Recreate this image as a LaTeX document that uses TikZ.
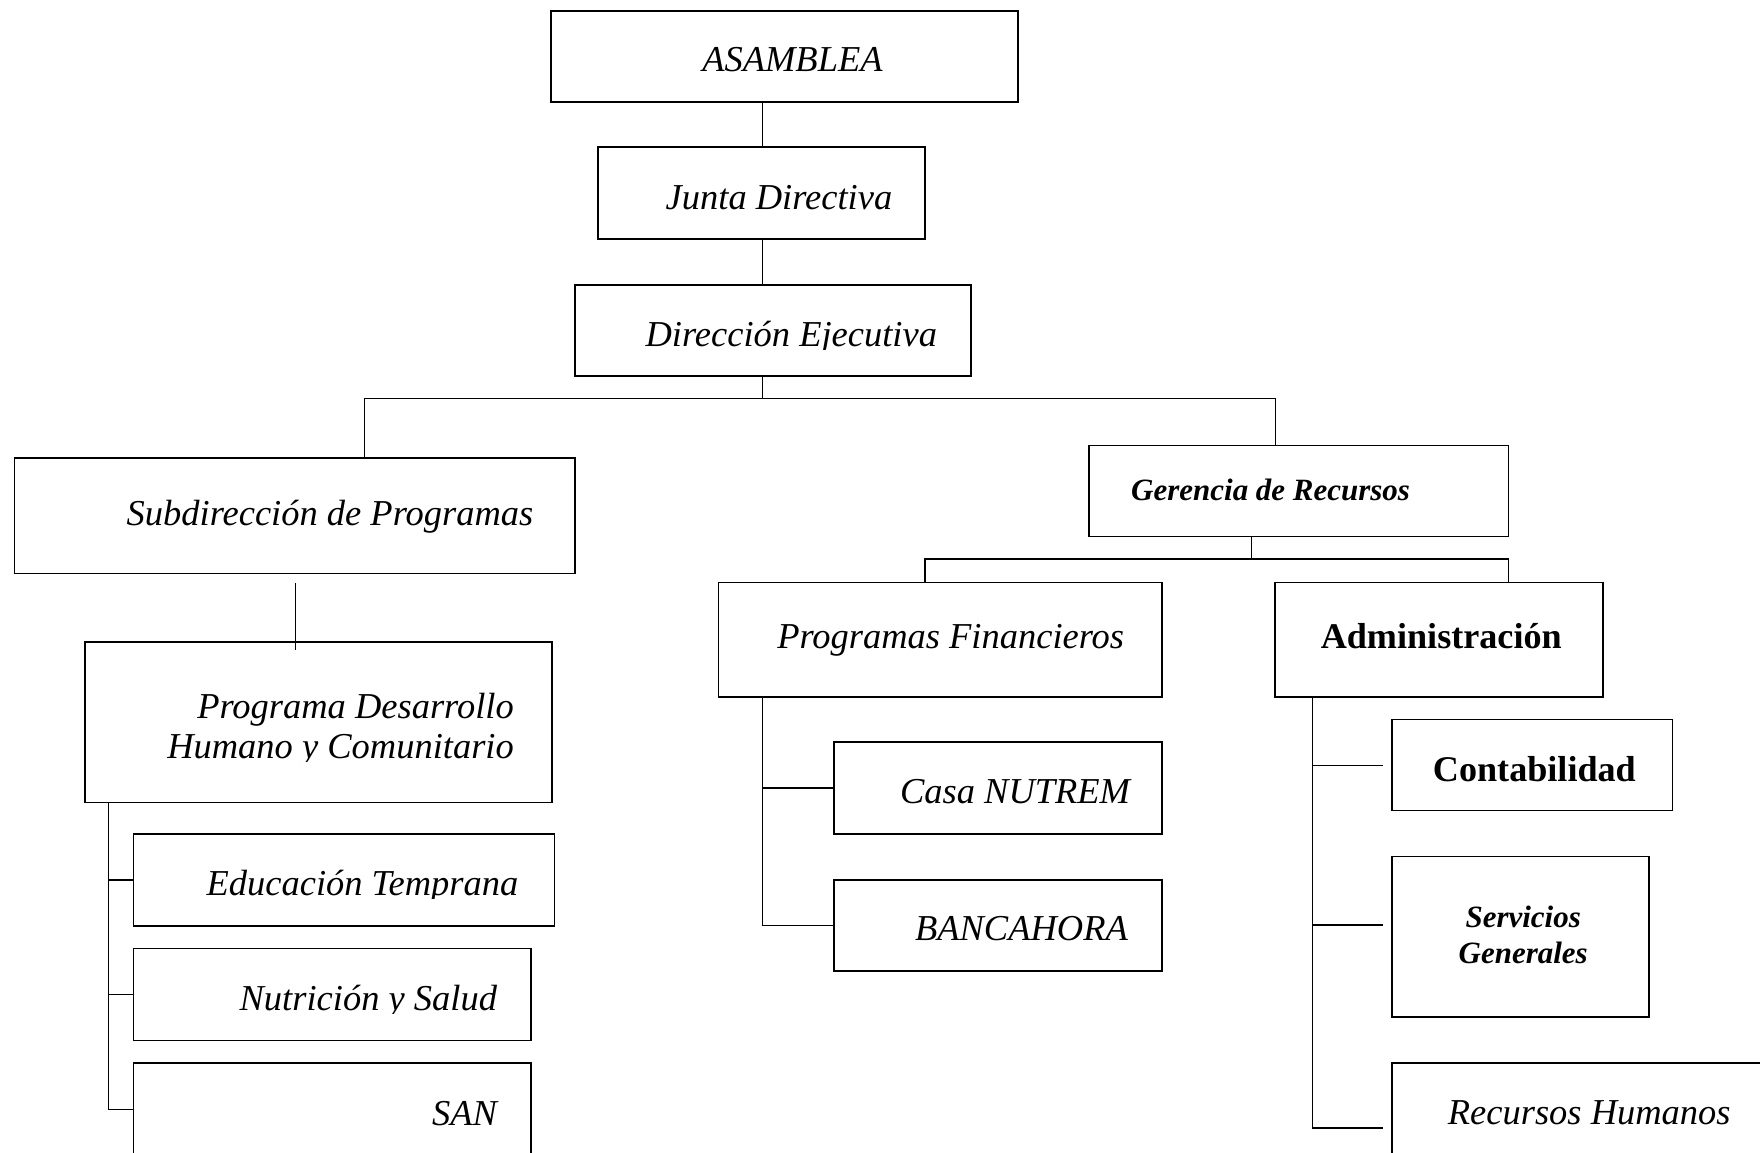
\documentclass[tikz,border=0pt]{standalone}
\usepackage{fontspec}
\setmainfont{Liberation Serif}
\usetikzlibrary{fit}
\begin{document}
\begin{tikzpicture}[x=1pt,y=-1pt,
  orgbox/.style={draw, line width=1.5pt, inner sep=0pt},
  link/.style={line width=1.1pt},
  tick/.style={line width=1.6pt},
  lbl/.style={inner sep=0pt, font=\fontsize{32.5}{37}\selectfont\itshape},
  lblbf/.style={inner sep=0pt, font=\fontsize{32.2}{37}\selectfont\bfseries},
  lblsm/.style={inner sep=0pt, align=center, font=\fontsize{27.6}{32}\selectfont\bfseries\itshape}]
\useasboundingbox (0,0) rectangle (1568,1027);

% ---- boxes ----
\node[orgbox, fit={(491,10) (907,91)}] (asam) {};
\node[orgbox, fit={(533,131) (824,213)}] (junta) {};
\node[orgbox, fit={(512,254) (865,335)}] (dir) {};
\node[orgbox, fit={(13,408) (512,511)}] (sub) {};
\node[orgbox, fit={(970,397) (1344,478)}] (ger) {};
\node[orgbox, fit={(76,572) (492,715)}] (pdhc) {};
\node[orgbox, fit={(119,743) (494,825)}] (edu) {};
\node[orgbox, fit={(119,845) (473,927)}] (nut) {};
\node[orgbox, fit={(119,947) (473,1030)}] (san) {};
\node[orgbox, fit={(640,519) (1035,621)}] (pf) {};
\node[orgbox, fit={(743,661) (1035,743)}] (casa) {};
\node[orgbox, fit={(743,784) (1035,865)}] (banc) {};
\node[orgbox, fit={(1136,519) (1428,621)}] (adm) {};
\node[orgbox, fit={(1240,641) (1490,722)}] (cont) {};
\node[orgbox, fit={(1240,763) (1469,906)}] (serv) {};
\node[orgbox, fit={(1240,947) (1575,1035)}] (rrhh) {};

% ---- labels ----
\node[lbl, anchor=base] (tasam) at (706,64) {ASAMBLEA};
\node[lbl, anchor=base] (tjunta) at (694,187) {Junta Directiva};
\begin{scope}
  \clip (512,254) rectangle (865,311.5);
  \node[lbl, anchor=base] (tdir) at (705,309) {Dirección Ejecutiva};
\end{scope}
\node[lbl, anchor=base] (tsub) at (294,468) {Subdirección de Programas};
\node[lblsm, anchor=base] (tger) at (1132,446) {Gerencia de Recursos};
\node[lbl, anchor=base east] (tpdhc1) at (458,640) {Programa Desarrollo};
\begin{scope}
  \clip (76,645) rectangle (492,678.5);
  \node[lbl, anchor=base east] (tpdhc2) at (458,676) {Humano y Comunitario};
\end{scope}
\begin{scope}
  \clip (119,743) rectangle (494,800.5);
  \node[lbl, anchor=base east] (tedu) at (462,798) {Educación Temprana};
\end{scope}
\begin{scope}
  \clip (119,845) rectangle (473,902.5);
  \node[lbl, anchor=base east] (tnut) at (443,900) {Nutrición y Salud};
\end{scope}
\node[lbl, anchor=base east] (tsan) at (443,1003) {SAN};
\node[lbl, anchor=base] (tpf) at (847,578) {Programas Financieros};
\node[lblbf, anchor=base] (tadm) at (1284,578) {Administración};
\node[lbl, anchor=base east] (tcasa) at (1007,716) {Casa NUTREM};
\node[lbl, anchor=base east] (tbanc) at (1005,838) {BANCAHORA};
\node[lblbf, anchor=base] (tcont) at (1367,696) {Contabilidad};
\node[lblsm, anchor=base] (tserv1) at (1357,826) {Servicios};
\node[lblsm, anchor=base] (tserv2) at (1357,858) {Generales};
\node[lbl, anchor=base east] (trrhh) at (1542,1002) {Recursos Humanos};

% ---- reference columns and rows for the connectors ----
\coordinate (trunk) at (679,0);
\coordinate (subx) at (325,0);
\coordinate (gerx) at (1136,0);
\coordinate (bus1) at (0,355);
\coordinate (gtrunk) at (1115,0);
\coordinate (bus2) at (0,498);
\coordinate (pfx) at (824,0);
\coordinate (admx) at (1344,0);
\coordinate (stub) at (263,0);
\coordinate (lx) at (97,0);
\coordinate (fx) at (679,0);
\coordinate (ax) at (1169,0);
\coordinate (atk1) at (1232,682);
\coordinate (atk2) at (1232,824);
\coordinate (atk3) at (1232,1005);

% ---- top spine ----
\draw[link] (asam.south -| trunk) -- (junta.north -| trunk);
\draw[link] (junta.south -| trunk) -- (dir.north -| trunk);
\draw[link] (dir.south -| trunk) -- (bus1 -| trunk);
\draw[link] (sub.north -| subx) -- (bus1 -| subx) -- (bus1 -| gerx) -- (ger.north -| gerx);

% ---- Gerencia de Recursos branch ----
\draw[link] (ger.south -| gtrunk) -- (bus2 -| gtrunk);
\draw[link] (pf.north -| pfx) -- (bus2 -| pfx) -- (bus2 -| admx) -- (adm.north -| admx);

% ---- Subdirección de Programas branch ----
\draw[link] ([yshift=-8pt]sub.south -| stub) -- ([yshift=-8pt]pdhc.north -| stub);
\draw[link] (pdhc.south -| lx) -- (lx |- san.west);
\draw[tick] (lx |- edu.west) -- (edu.west);
\draw[tick] (lx |- nut.west) -- (nut.west);
\draw[tick] (lx |- san.west) -- (san.west);

% ---- Programas Financieros branch ----
\draw[link] (pf.south -| fx) -- (fx |- banc.west);
\draw[tick] (fx |- casa.west) -- (casa.west);
\draw[tick] (fx |- banc.west) -- (banc.west);

% ---- Administración branch ----
\draw[link] (adm.south -| ax) -- (ax |- atk3);
\draw[tick] (ax |- atk1) -- (atk1);
\draw[tick] (ax |- atk2) -- (atk2);
\draw[tick] (ax |- atk3) -- (atk3);
\end{tikzpicture}
\end{document}
